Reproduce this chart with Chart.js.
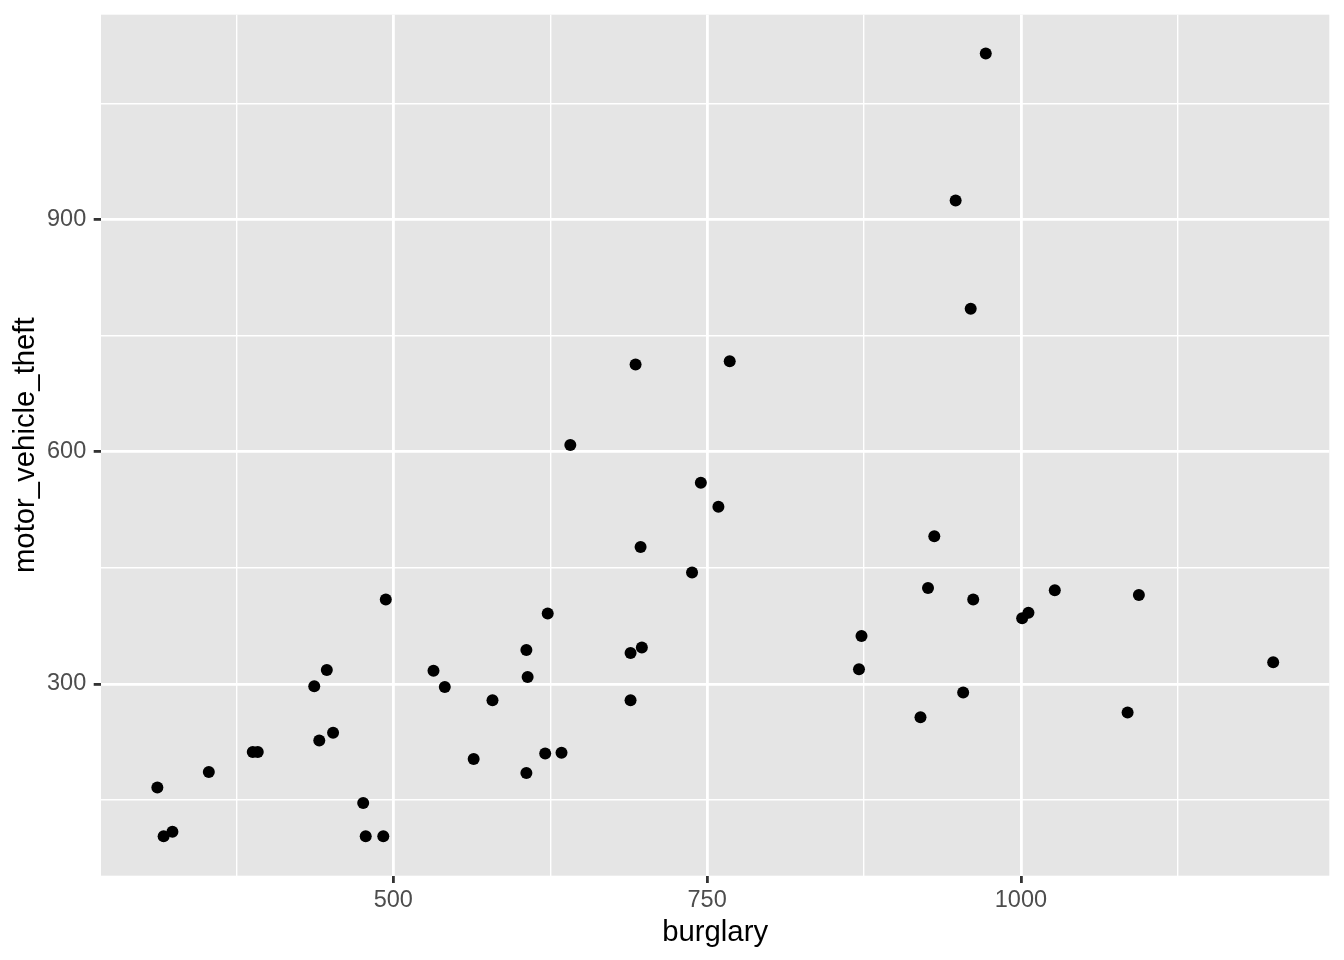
<!DOCTYPE html>
<html>
<head>
<meta charset="utf-8">
<script src="https://cdn.jsdelivr.net/npm/chart.js@4"></script>
<style>
  html, body { margin: 0; padding: 0; background: #ffffff; }
</style>
</head>
<body>
<canvas id="myChart" width="1344" height="960"></canvas>
<script>
// burglary vs motor_vehicle_theft, one point per state
var burglary = [312, 317, 324, 353, 388, 392, 437, 441, 447, 452,
                476, 478, 492, 494, 532, 541, 564, 579, 606, 607,
                606, 621, 623, 634, 641, 693, 689, 689, 697, 698,
                738, 745, 759, 768, 871, 873, 920, 926, 931, 948,
                954, 960, 962, 972, 1001, 1006, 1027, 1085, 1094, 1201];
var motorVehicleTheft = [166, 103, 109, 186, 212, 212, 297, 227, 318, 237,
                         146, 103, 103, 409, 317, 296, 203, 279, 344, 309,
                         185, 210, 391, 211, 609, 713, 340, 279, 477, 347,
                         444, 560, 529, 717, 319, 362, 257, 424, 491, 925,
                         289, 785, 409, 1115, 385, 392, 421, 263, 415, 328];

var xMajor = [500, 750, 1000];
var xMinor = [375, 625, 875, 1125];
var yMajor = [300, 600, 900];
var yMinor = [150, 450, 750, 1050];

var points = burglary.map(function (b, i) { return { x: b, y: motorVehicleTheft[i] }; });

function setTicks(major, minor) {
  return function (scale) {
    scale.ticks = major.concat(minor).sort(function (a, b) { return a - b; })
      .map(function (v) { return { value: v }; });
  };
}
function isMajor(list) {
  return function (ctx) { return ctx.tick && list.indexOf(ctx.tick.value) >= 0; };
}

var panelBg = {
  id: 'panelBg',
  beforeDraw: function (chart) {
    var a = chart.chartArea, c = chart.ctx;
    c.save();
    c.fillStyle = '#E5E5E5';
    c.fillRect(a.left, a.top, a.right - a.left, a.bottom - a.top);
    c.restore();
  }
};

var font = 'Liberation Sans, Arial, Helvetica, sans-serif';
var xIsMajor = isMajor(xMajor), yIsMajor = isMajor(yMajor);

const ctx = document.getElementById('myChart');
new Chart(ctx, {
  type: 'scatter',
  data: {
    datasets: [{
      data: points,
      backgroundColor: '#000000',
      borderWidth: 0,
      pointRadius: 6,
      pointHoverRadius: 6
    }]
  },
  plugins: [panelBg],
  options: {
    responsive: false,
    animation: false,
    events: [],
    devicePixelRatio: 1,
    layout: { padding: { left: 0, right: 14.7, top: 14.7, bottom: 0 } },
    plugins: { legend: { display: false }, tooltip: { enabled: false } },
    scales: {
      x: {
        type: 'linear',
        min: 267.1,
        max: 1245.7,
        afterBuildTicks: setTicks(xMajor, xMinor),
        afterFit: function (s) { s.height = 84.3; s.paddingLeft = 0; s.paddingRight = 0; },
        border: { display: false },
        grid: {
          color: '#FFFFFF',
          lineWidth: function (c) { return xIsMajor(c) ? 2.8 : 1.4; },
          tickLength: 7.3,
          tickWidth: 2.8,
          tickColor: function (c) { return xIsMajor(c) ? '#333333' : 'rgba(0,0,0,0)'; }
        },
        ticks: {
          autoSkip: false,
          maxRotation: 0,
          padding: 3.5,
          color: '#4D4D4D',
          font: { family: font, size: 23.5 },
          callback: function (v) { return xMajor.indexOf(v) >= 0 ? String(v) : ''; }
        },
        title: {
          display: true,
          text: 'burglary',
          color: '#000000',
          font: { family: font, size: 29.3 },
          padding: { top: 0, bottom: 9.5 }
        }
      },
      y: {
        type: 'linear',
        min: 52.1,
        max: 1165.1,
        afterBuildTicks: setTicks(yMajor, yMinor),
        afterFit: function (s) { s.width = 101; s.paddingTop = 0; s.paddingBottom = 0; },
        border: { display: false },
        grid: {
          color: '#FFFFFF',
          lineWidth: function (c) { return yIsMajor(c) ? 2.8 : 1.4; },
          tickLength: 7.3,
          tickWidth: 2.8,
          tickColor: function (c) { return yIsMajor(c) ? '#333333' : 'rgba(0,0,0,0)'; }
        },
        ticks: {
          autoSkip: false,
          padding: 7.5,
          color: '#4D4D4D',
          font: { family: font, size: 23.5 },
          callback: function (v) { return yMajor.indexOf(v) >= 0 ? String(v) : ''; }
        },
        title: {
          display: true,
          text: 'motor_vehicle_theft',
          color: '#000000',
          font: { family: font, size: 29.3 },
          padding: { top: 8.6, bottom: 0 }
        }
      }
    }
  }
});
</script>
</body>
</html>
